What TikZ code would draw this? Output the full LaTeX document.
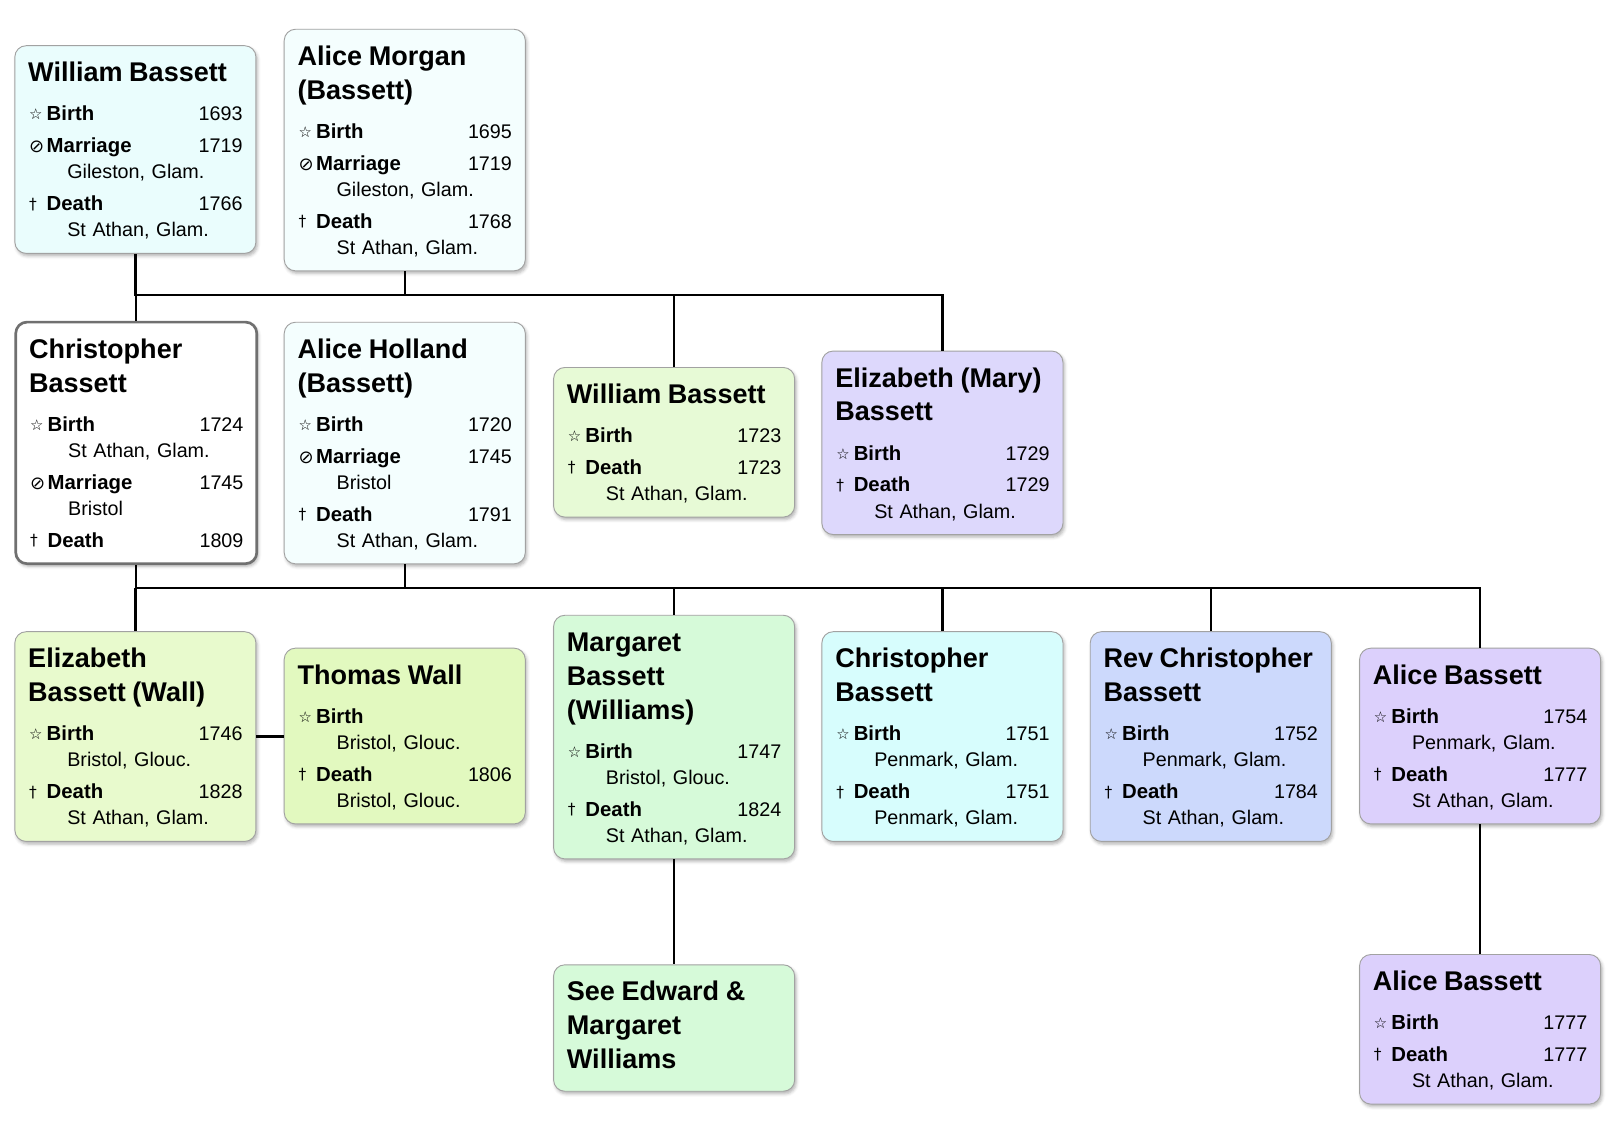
\documentclass[tikz,border=0pt]{standalone}
\usepackage{fontspec}
\setmainfont{Liberation Sans}
\newfontfamily\symfont{DejaVu Sans}
\usetikzlibrary{shadows.blur}

\setlength{\parindent}{0pt}
\setlength{\lineskiplimit}{-100pt}

\definecolor{boxline}{HTML}{A2A2A2}
\definecolor{focusline}{HTML}{707070}
\definecolor{mistcyan}{HTML}{EAFDFD}
\definecolor{palecyan}{HTML}{F4FEFE}
\definecolor{palelime}{HTML}{E7FAD6}
\definecolor{lavender}{HTML}{DDD8FC}
\definecolor{lime}{HTML}{E8FACD}
\definecolor{limetwo}{HTML}{E2F9BF}
\definecolor{mint}{HTML}{D6FAD9}
\definecolor{aqua}{HTML}{D7FDFD}
\definecolor{periwinkle}{HTML}{CCD9FC}
\definecolor{lilac}{HTML}{DCD0FC}

\newcommand{\sbirth}{\raisebox{0.8pt}{\symfont\fontsize{14.5}{14.5}\selectfont ☆}}
\newcommand{\smarr}{\raisebox{-0.3pt}{\symfont\fontsize{17.5}{17.5}\selectfont ⊘}}
\newcommand{\sdeath}{\raisebox{1.5pt}{\symfont\fontsize{15}{15}\selectfont †}}
\newcommand{\pname}[2][6pt]{{\fontsize{26.3}{33}\selectfont\bfseries\rule{0pt}{23pt}#2\rule[-#1]{0pt}{#1}\par}\vspace{7pt}}
\newcommand{\pevent}[3]{\vspace{5.5pt}\makebox[18pt][l]{\hspace{1pt}#1}{\fontsize{19.8}{25.5}\selectfont\bfseries #2}\hfill #3\rule[-4pt]{0pt}{4pt}\par}
\newcommand{\pplace}[1]{\hspace*{38pt}#1\rule[-4pt]{0pt}{4pt}\par}

\tikzset{
  person/.style={draw=boxline, line width=0.9pt, rounded corners=11pt, fill=#1,
    text width=208.5pt, inner xsep=13pt, inner ysep=12pt, anchor=north west, align=left,
    font=\fontsize{19.2}{25.5}\selectfont,
    blur shadow={shadow xshift=1.5pt, shadow yshift=-2.5pt, shadow blur radius=3pt, shadow opacity=30}},
  focus/.style={person=white, draw=focusline, line width=2.6pt},
  famline/.style={line width=2.3pt, black}
}

\begin{document}
\begin{tikzpicture}[x=1pt, y=-1pt]
  \useasboundingbox (0,0) rectangle (1568,1111);
  \node[person=mistcyan] (wb) at (14,44) {\pname{William Bassett}
    \pevent{\sbirth}{Birth}{1693}
    \pevent{\smarr}{Marriage}{1719}\pplace{Gileston, Glam.}
    \pevent{\sdeath}{Death}{1766}\pplace{St Athan, Glam.}};
  \node[person=palecyan] (am) at (276,28) {\pname{Alice Morgan\\(Bassett)}
    \pevent{\sbirth}{Birth}{1695}
    \pevent{\smarr}{Marriage}{1719}\pplace{Gileston, Glam.}
    \pevent{\sdeath}{Death}{1768}\pplace{St Athan, Glam.}};
  \node[focus] (cb) at (14,312) {\pname{Christopher\\Bassett}
    \pevent{\sbirth}{Birth}{1724}\pplace{St Athan, Glam.}
    \pevent{\smarr}{Marriage}{1745}\pplace{Bristol}
    \pevent{\sdeath}{Death}{1809}};
  \node[person=palecyan] (ah) at (276,313) {\pname{Alice Holland\\(Bassett)}
    \pevent{\sbirth}{Birth}{1720}
    \pevent{\smarr}{Marriage}{1745}\pplace{Bristol}
    \pevent{\sdeath}{Death}{1791}\pplace{St Athan, Glam.}};
  \node[person=palelime] (wb2) at (538,357) {\pname{William Bassett}
    \pevent{\sbirth}{Birth}{1723}
    \pevent{\sdeath}{Death}{1723}\pplace{St Athan, Glam.}};
  \node[person=lavender] (em) at (799,341) {\pname{Elizabeth (Mary)\\Bassett}
    \pevent{\sbirth}{Birth}{1729}
    \pevent{\sdeath}{Death}{1729}\pplace{St Athan, Glam.}};
  \node[person=lime] (ebw) at (14,614) {\pname{Elizabeth\\Bassett (Wall)}
    \pevent{\sbirth}{Birth}{1746}\pplace{Bristol, Glouc.}
    \pevent{\sdeath}{Death}{1828}\pplace{St Athan, Glam.}};
  \node[person=limetwo] (tw) at (276,630) {\pname{Thomas Wall}
    \pevent{\sbirth}{Birth}{}\pplace{Bristol, Glouc.}
    \pevent{\sdeath}{Death}{1806}\pplace{Bristol, Glouc.}};
  \node[person=mint] (mb) at (538,598) {\pname{Margaret\\Bassett\\(Williams)}
    \pevent{\sbirth}{Birth}{1747}\pplace{Bristol, Glouc.}
    \pevent{\sdeath}{Death}{1824}\pplace{St Athan, Glam.}};
  \node[person=aqua] (cb2) at (799,614) {\pname{Christopher\\Bassett}
    \pevent{\sbirth}{Birth}{1751}\pplace{Penmark, Glam.}
    \pevent{\sdeath}{Death}{1751}\pplace{Penmark, Glam.}};
  \node[person=periwinkle] (rc) at (1060,614) {\pname{Rev Christopher\\Bassett}
    \pevent{\sbirth}{Birth}{1752}\pplace{Penmark, Glam.}
    \pevent{\sdeath}{Death}{1784}\pplace{St Athan, Glam.}};
  \node[person=lilac] (ab) at (1322,630) {\pname{Alice Bassett}
    \pevent{\sbirth}{Birth}{1754}\pplace{Penmark, Glam.}
    \pevent{\sdeath}{Death}{1777}\pplace{St Athan, Glam.}};
  \node[person=mint] (se) at (538,938) {\pname[10pt]{See Edward \&\\Margaret\\Williams}};
  \node[person=lilac] (ab2) at (1322,928) {\pname{Alice Bassett}
    \pevent{\sbirth}{Birth}{1777}
    \pevent{\sdeath}{Death}{1777}\pplace{St Athan, Glam.}};
  \coordinate (b1) at (0,287);
  \coordinate (b2) at (0,572);
  \begin{scope}[famline]
    \draw (wb.south) |- (em.north |- b1) -- (em.north);
    \draw (am.south) -- (am.south |- b1);
    \draw (cb.north) -- (cb.north |- b1);
    \draw (wb2.north) -- (wb2.north |- b1);
    \draw (cb.south) |- (ab.north |- b2) -- (ab.north);
    \draw (ah.south) -- (ah.south |- b2);
    \draw (ebw.north) -- (ebw.north |- b2);
    \draw (mb.north) -- (mb.north |- b2);
    \draw (cb2.north) -- (cb2.north |- b2);
    \draw (rc.north) -- (rc.north |- b2);
    \draw (ebw.east) -- (ebw.east -| tw.west);
    \draw (mb.south) -- (se.north);
    \draw (ab.south) -- (ab2.north);
  \end{scope}
\end{tikzpicture}
\end{document}
